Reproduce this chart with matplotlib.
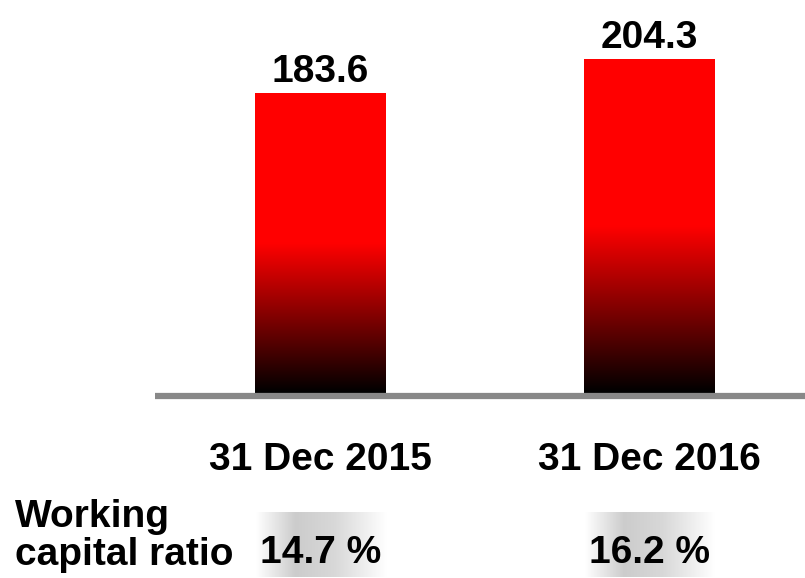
import matplotlib
matplotlib.use("Agg")
import matplotlib.pyplot as plt
import matplotlib.transforms as mtransforms
from matplotlib.colors import LinearSegmentedColormap
from matplotlib import font_manager
import numpy as np

# data
categories = ["31 Dec 2015", "31 Dec 2016"]
values = [183.6, 204.3]
ratio_label = ["Working", "capital ratio"]
ratios = ["14.7 %", "16.2 %"]

# font: narrow bold like Arial Narrow if there, else Liberation Sans smaller
names = {f.name for f in font_manager.fontManager.ttflist}
narrow = "Liberation Sans Narrow" in names
fam = "Liberation Sans Narrow" if narrow else "Liberation Sans"
fs = 33 if narrow else 28
plt.rcParams["font.family"] = [fam, "DejaVu Sans"]
plt.rcParams["font.weight"] = "bold"

W, H = 805, 578
fig = plt.figure(figsize=(W / 100, H / 100), dpi=100)

# bar axes (pixel layout)
px = 300 / 183.6  # pixels per unit
ax = fig.add_axes([155 / W, (H - 396) / H, 650 / W, 396 / H])
ax.set_facecolor("none")
for s in ["top", "left", "right"]:
    ax.spines[s].set_visible(False)
ax.spines["bottom"].set_color("#888888")
ax.spines["bottom"].set_linewidth(4.5)
ax.spines["bottom"].set_capstyle("butt")
ax.spines["bottom"].set_zorder(5)
ax.set_xticks([])
ax.set_yticks([])

cmap = LinearSegmentedColormap.from_list(
    "rb", [(0, "#000000"), (0.5, "#ff0000"), (1, "#ff0000")])
grad = np.linspace(0, 1, 256).reshape(-1, 1)

xs = np.arange(len(values))
bw = 131 / 329
bars = ax.bar(xs, values, width=bw, color="none", edgecolor="none")
for b, v in zip(bars, values):
    x0 = b.get_x()
    im = ax.imshow(grad, cmap=cmap, aspect="auto", origin="lower",
                   extent=[x0, x0 + b.get_width(), 0, v], zorder=2)
    im.set_clip_path(b)
    ax.annotate(f"{v:.1f}", (b.get_x() + b.get_width() / 2, v),
                xytext=(0, 8), textcoords="offset points",
                ha="center", va="baseline", fontsize=fs, fontweight="bold")
ax.set_xlim(-165.5 / 329, 1 + 155.5 / 329)
ax.set_ylim(-3 / px, 393 / px)

# category labels below the axis line
trans = mtransforms.blended_transform_factory(ax.transData, fig.transFigure)
for x, c in zip(xs, categories):
    ax.text(x, (H - 470) / H, c, transform=trans, ha="center", va="baseline",
            fontsize=fs, fontweight="bold")

# ratio row in a pixel overlay
ov = fig.add_axes([0, 0, 1, 1], zorder=-1)
ov.axis("off")
box_cmap = LinearSegmentedColormap.from_list(
    "g", [(0, "#ffffff"), (0.3, "#cccccc"), (0.6, "#d8d8d8"), (1, "#ffffff")])
hgrad = np.linspace(0, 1, 256).reshape(1, -1)
for y, line in zip([527, 565], ratio_label):
    ov.text(15, y, line, ha="left", va="baseline", fontsize=fs,
            fontweight="bold")
for x, r in zip(xs, ratios):
    cx = ax.transData.transform((x, 0))[0]
    ov.imshow(hgrad, cmap=box_cmap, aspect="auto",
              extent=[cx - 65, cx + 65, 577, 512], zorder=1)
    ov.text(cx, 563, r, ha="center", va="baseline", fontsize=fs,
            fontweight="bold", zorder=2)
ov.set_xlim(0, W)
ov.set_ylim(H, 0)

fig.savefig("out.png", dpi=100)
